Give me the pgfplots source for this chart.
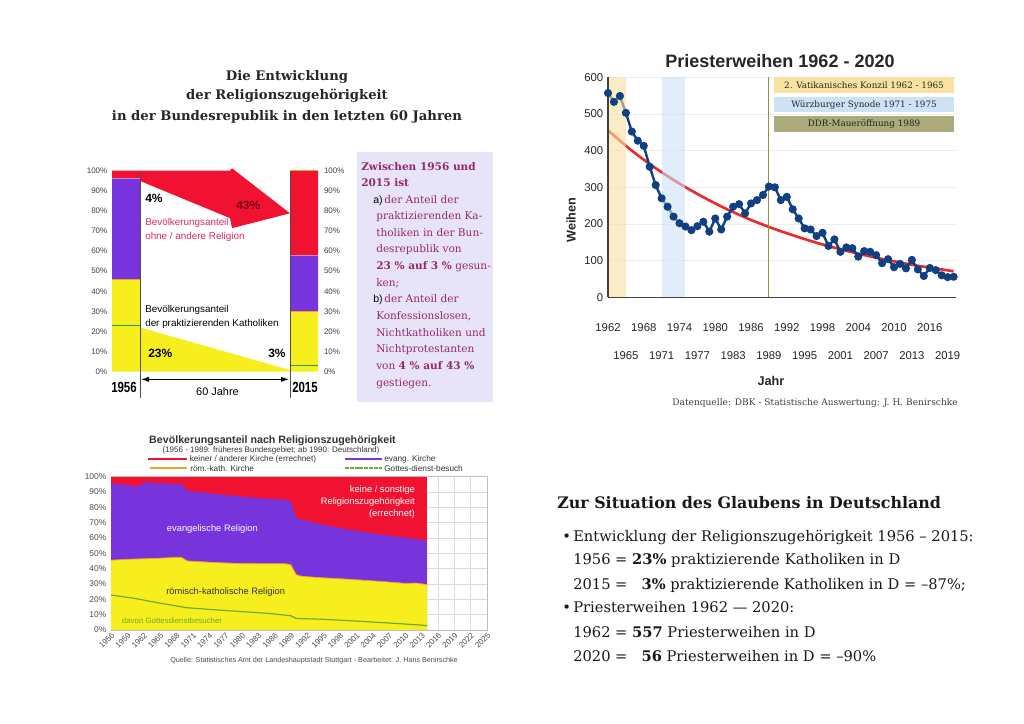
\documentclass[border=0pt]{standalone}
\usepackage{pgfplots}
\pgfplotsset{compat=1.18}
\usepackage{fontspec}
\setmainfont{Liberation Sans}
\newfontfamily\srf{DejaVu Serif}
\usetikzlibrary{arrows.meta}

\definecolor{yel}{RGB}{247,238,30}
\definecolor{lila}{RGB}{120,52,220}
\definecolor{rot}{RGB}{240,18,48}
\definecolor{orng}{RGB}{245,160,40}
\definecolor{grn}{RGB}{40,150,60}
\definecolor{pinktxt}{RGB}{214,44,96}
\definecolor{boxbg}{RGB}{232,228,248}
\definecolor{boxtxt}{RGB}{150,40,110}
\definecolor{wblue}{RGB}{16,64,130}
\definecolor{trend}{RGB}{232,44,44}
\definecolor{konzil}{RGB}{248,226,160}
\definecolor{synode}{RGB}{206,226,245}
\definecolor{olivl}{RGB}{150,145,60}
\definecolor{olivbox}{RGB}{170,170,122}
\definecolor{agrn}{RGB}{110,170,50}

\newcommand{\fs}[1]{\fontsize{#1}{#1}\selectfont}
\pgfplotsset{/pgf/number format/1000 sep={}, /pgf/number format/assume math mode=true}

\begin{document}
\begin{tikzpicture}[x=0.75pt,y=0.75pt]
\useasboundingbox (0,0) rectangle (1024,724);
\fill[white] (0,0) rectangle (1024,724);

% ---------------- panel 1: 1956 / 2015 ----------------
\begin{scope}[every node/.style={inner sep=0pt}]
\node[anchor=base, font=\srf\bfseries\fs{9.9}, text=black!85] at (287,{724-80.5}) {Die Entwicklung};
\node[anchor=base, font=\srf\bfseries\fs{9.9}, text=black!85] at (287,{724-100}) {der Religionszugehörigkeit};
\node[anchor=base, font=\srf\bfseries\fs{9.9}, text=black!85] at (287,{724-120.5}) {in der Bundesrepublik in den letzten 60 Jahren};
\end{scope}

\begin{axis}[at={(84pt,264.225pt)}, anchor=south west, scale only axis,
  width=154.5pt, height=150.75pt, xmin=112, xmax=318, ymin=0, ymax=100,
  ybar stacked, bar width=28, axis line style={draw=none}, xtick=\empty,
  ytick={0,10,...,100}, yticklabel={\pgfmathprintnumber{\tick}\%}, ytick pos=left,
  major tick length=0pt, yticklabel style={font=\fs{6}, text=black!75}]
\addplot[fill=yel, draw=none] coordinates {(126,46) (304,30)};
\addplot[fill=lila, draw=none] coordinates {(126,50) (304,28)};
\addplot[fill=rot, draw=none] coordinates {(126,4) (304,42)};
\end{axis}

\begin{axis}[at={(84pt,264.225pt)}, anchor=south west, scale only axis,
  width=154.5pt, height=150.75pt, xmin=112, xmax=318, ymin=0, ymax=100, clip=false,
  axis line style={draw=none}, xtick=\empty, ytick={0,10,...,100}, ytick pos=right,
  yticklabel={\pgfmathprintnumber{\tick}\%}, major tick length=0pt,
  yticklabel style={font=\fs{6}, text=black!75, xshift=1pt}]
\addplot[fill=yel, draw=none] coordinates {(140,22) (290,0.8)} \closedcycle;
\addplot[fill=rot, draw=none] coordinates {(140,100) (230,100) (232,101.2) (290,78.8) (232,71.4) (230,76.4) (140,94.9)} -- cycle;
\addplot[orng, line width=0.8pt] coordinates {(112,46) (140,46)};
\addplot[orng, line width=0.8pt] coordinates {(290,30) (318,30)};
\addplot[orng, line width=0.8pt] coordinates {(290,100) (318,100)};
\addplot[violet!45, line width=0.8pt] coordinates {(112,96) (140,96)};
\addplot[violet!45, line width=0.8pt] coordinates {(290,58) (318,58)};
\addplot[grn, line width=0.8pt] coordinates {(112,23) (140,23)};
\addplot[grn, line width=0.8pt] coordinates {(290,3) (318,3)};
\draw[black!70, line width=0.5pt] (axis cs:140,100) -- (axis cs:140,-13);
\draw[black!70, line width=0.5pt] (axis cs:290,100) -- (axis cs:290,-13);
\draw[{Latex[length=6pt,width=4pt]}-{Latex[length=6pt,width=4pt]}, line width=0.8pt] (axis cs:141,-3.8) -- (axis cs:289,-3.8);
\end{axis}

\begin{scope}[every node/.style={inner sep=0pt, anchor=base west}]
\node[font=\bfseries\fs{9}] at (145,{724-202.7}) {4\%};
\node[font=\bfseries\fs{9}, text={rgb,255:red,120;green,0;blue,20}] at (236,{724-210}) {43\%};
\node[font=\fs{7.4}, text=pinktxt] at (145,{724-226}) {Bevölkerungsanteil};
\node[font=\fs{7.4}, text=pinktxt] at (145,{724-240}) {ohne / andere Religion};
\node[font=\fs{7.4}] at (145,{724-313}) {Bevölkerungsanteil};
\node[font=\fs{7.4}] at (145,{724-326.7}) {der praktizierenden Katholiken};
\node[font=\bfseries\fs{9}] at (148,{724-357.3}) {23\%};
\node[font=\bfseries\fs{9}] at (268,{724-357.3}) {3\%};
\node[font=\bfseries\fs{11}] at (111,{724-393}) {\scalebox{0.78}[1]{1956}};
\node[font=\bfseries\fs{11}] at (292,{724-393}) {\scalebox{0.78}[1]{2015}};
\node[font=\fs{8.2}, anchor=base] at (217.5,{724-396}) {60 Jahre};
\end{scope}

\fill[boxbg] (357,{724-152}) rectangle (493,{724-402});
\begin{scope}[every node/.style={inner sep=0pt, anchor=base west, font=\srf\fs{7.9}, text=boxtxt}]
\node[font=\srf\bfseries\fs{7.9}] at (361,{724-170.7}) {Zwischen 1956 und};
\node[font=\srf\bfseries\fs{7.9}] at (361,{724-186.7}) {2015 ist};
\node at (373,{724-203.3}) {\textcolor{black}{\fontspec{Liberation Sans}a)}\,der Anteil der};
\node at (376,{724-220}) {praktizierenden Ka-};
\node at (376,{724-236.5}) {tholiken in der Bun-};
\node at (376,{724-253}) {desrepublik von};
\node at (376,{724-270}) {\textbf{23 \% auf 3 \%} gesun-};
\node at (376,{724-286.7}) {ken;};
\node at (373,{724-302.7}) {\textcolor{black}{\fontspec{Liberation Sans}b)}\,der Anteil der};
\node at (376,{724-320}) {Konfessionslosen,};
\node at (376,{724-336.7}) {Nichtkatholiken und};
\node at (376,{724-353}) {Nichtprotestanten};
\node at (376,{724-370}) {von \textbf{4 \% auf 43 \%}};
\node at (376,{724-386.5}) {gestiegen.};
\end{scope}

% ---------------- panel 2: Priesterweihen ----------------
\node[font=\bfseries\fs{13.5}, text=black!85] at (780,{724-61.5}) {Priesterweihen 1962 - 2020};

\begin{axis}[at={(456pt,320.025pt)}, anchor=south west, scale only axis,
  width=261pt, height=165pt, xmin=1962, xmax=2020.4, ymin=0, ymax=600,
  axis x line=bottom, axis y line=left, axis line style={-, draw=black!75, line width=0.9pt},
  ytick={0,100,...,600}, ymajorgrids, grid style={black!7},
  xtick={1962,1968,...,2016}, extra x ticks={1965,1971,...,2019},
  extra x tick style={xticklabel style={yshift=-21pt}},
  major tick length=0pt, clip=false,
  xticklabel style={font=\fs{8.5}, text=black!85, yshift=-16pt},
  yticklabel style={font=\fs{8.5}, text=black!85}]
\addplot[trend, line width=2pt, smooth] coordinates {
 (1962,455) (1966,400) (1970,352) (1974,310) (1978,273) (1982,240) (1986,211)
 (1990,186) (1994,164) (1998,144) (2002,127) (2006,111.5) (2010,98) (2014,86)
 (2018,76) (2020,71)};
\addplot[wblue, line width=1.8pt, mark=*, mark size=2.1pt] coordinates {
 (1962,557) (1963,533) (1964,549) (1965,503) (1966,452) (1967,427) (1968,413)
 (1969,356) (1970,306) (1971,270) (1972,247) (1973,220) (1974,202) (1975,193)
 (1976,183) (1977,194) (1978,206) (1979,179) (1980,215) (1981,185) (1982,220)
 (1983,247) (1984,254) (1985,229) (1986,256) (1987,265) (1988,279) (1989,302)
 (1990,300) (1991,265) (1992,274) (1993,240) (1994,215) (1995,188) (1996,185)
 (1997,167) (1998,176) (1999,140) (2000,158) (2001,124) (2002,136) (2003,134)
 (2004,111) (2005,126) (2006,124) (2007,115) (2008,93) (2009,104) (2010,82)
 (2011,91) (2012,79) (2013,102) (2014,76) (2015,58) (2016,80) (2017,74)
 (2018,60) (2019,55) (2020,56)};
\fill[konzil, opacity=0.6] (axis cs:1962,0) rectangle (axis cs:1965,600);
\fill[synode, opacity=0.6] (axis cs:1971,0) rectangle (axis cs:1975,600);
\draw[olivl, line width=0.9pt] (axis cs:1989,0) -- (axis cs:1989,600);
\draw[black!75, line width=0.9pt] (axis cs:1962,0) -- (axis cs:1962,600);
\end{axis}

\fill[konzil] (774,{724-77.3}) rectangle (954.3,{724-93.3});
\fill[synode] (774,{724-97.3}) rectangle (954.3,{724-112});
\fill[olivbox] (774,{724-116}) rectangle (954.3,{724-131.7});
\node[font=\srf\fs{6.6}, text=black!85] at (864,{724-85.3}) {2. Vatikanisches Konzil 1962 - 1965};
\node[font=\srf\fs{6.6}, text=black!85] at (864,{724-104.7}) {Würzburger Synode 1971 - 1975};
\node[font=\srf\fs{6.6}, text=black!85] at (864,{724-124}) {DDR-Maueröffnung 1989};
\node[font=\bfseries\fs{9.5}, rotate=90, text=black!85] at (571,{724-220}) {Weihen};
\node[font=\bfseries\fs{9.5}, text=black!85] at (771,{724-381}) {Jahr};
\node[font=\srf\fs{6.8}, text=black!75] at (815,{724-403}) {Datenquelle: DBK - Statistische Auswertung: J. H. Benirschke};

% ---------------- panel 3: Bevoelkerungsanteil ----------------
\node[font=\bfseries\fs{8}, text=black!80] at (272.5,{724-440.5}) {Bevölkerungsanteil nach Religionszugehörigkeit};
\node[font=\fs{6}, text=black!80] at (271,{724-450}) {(1956 - 1989: früheres Bundesgebiet; ab 1990: Deutschland)};
\draw[rot, line width=1.3pt] (148,{724-459.3}) -- (187,{724-459.3});
\draw[lila, line width=1.3pt] (345,{724-459.3}) -- (382,{724-459.3});
\draw[orng, line width=1.3pt] (150,{724-468.3}) -- (187,{724-468.3});
\draw[agrn, line width=1.3pt, dash pattern=on 3pt off 0.6pt] (345,{724-468.3}) -- (382,{724-468.3});
\begin{scope}[every node/.style={inner sep=0pt, anchor=west, font=\fs{6.2}, text=black!80}]
\node at (189.5,{724-459.3}) {keiner / anderer Kirche (errechnet)};
\node at (384,{724-459.3}) {evang. Kirche};
\node at (190,{724-468.3}) {röm.-kath. Kirche};
\node at (384,{724-468.3}) {Gottes-dienst-besuch};
\end{scope}

\begin{axis}[at={(83.25pt,70.5pt)}, anchor=south west, scale only axis,
  width=282pt, height=115pt, xmin=1956, xmax=2025, ymin=0, ymax=100,
  xtick={1956,1959,...,2025}, ytick={0,10,...,100},
  yticklabel={\pgfmathprintnumber{\tick}\%},
  xmajorgrids, ymajorgrids, grid style={black!14}, axis line style={black!25},
  major tick length=0pt,
  xticklabel style={rotate=45, anchor=north east, font=\fs{6}, text=black!70, inner sep=1pt},
  yticklabel style={font=\fs{6.3}, text=black!70}]
\addplot[fill=rot, draw=none] coordinates {(1956,100) (2014,100)} \closedcycle;
\addplot[fill=lila, draw=none] coordinates {
 (1956,95.7) (1958,95) (1960,94) (1961,93.5) (1962,96.3) (1965,95.8) (1968,95.3)
 (1969,95) (1970,90.7) (1972,90) (1975,88.8) (1980,87) (1985,85.5) (1988,85)
 (1989,84) (1990,73) (1992,71) (1995,68.5) (2000,65.2) (2005,62.5) (2010,60.2)
 (2013,58.8) (2014,57.6)} \closedcycle;
\addplot[fill=yel, draw=none] coordinates {
 (1956,45.5) (1959,46.1) (1965,46.8) (1968,47.4) (1969,47.2) (1970,45) (1975,44)
 (1980,43.3) (1988,43.2) (1989,42.5) (1990,36) (1991,35) (1995,34) (2000,33)
 (2005,31.8) (2010,30.4) (2012,30.6) (2014,29.6)} \closedcycle;
\addplot[orng, line width=0.6pt] coordinates {
 (1956,45.5) (1959,46.1) (1965,46.8) (1968,47.4) (1969,47.2) (1970,45) (1975,44)
 (1980,43.3) (1988,43.2) (1989,42.5) (1990,36) (1991,35) (1995,34) (2000,33)
 (2005,31.8) (2010,30.4) (2012,30.6) (2014,29.6)};
\addplot[agrn, line width=0.9pt] coordinates {
 (1956,22.8) (1960,20.8) (1965,17.5) (1970,14.5) (1975,13.2) (1980,12) (1985,10.8)
 (1989,9.3) (1990,7.5) (1995,7) (2000,6) (2005,5) (2010,3.9) (2014,2.9)};
\end{axis}

\begin{scope}[every node/.style={inner sep=0pt}]
\node[anchor=east, font=\fs{7}, text=white] at (415,{724-490}) {keine / sonstige};
\node[anchor=east, font=\fs{7}, text=white] at (415,{724-502.5}) {Religionszugehörigkeit};
\node[anchor=east, font=\fs{7}, text=white] at (415,{724-514.5}) {(errechnet)};
\node[anchor=west, font=\fs{7}, text=white] at (166.7,{724-529}) {evangelische Religion};
\node[anchor=west, font=\fs{7}, text=black!80] at (166,{724-592}) {römisch-katholische Religion};
\node[anchor=west, font=\fs{5.9}, text=agrn] at (121.7,{724-621}) {davon Gottesdienstbesucher};
\node[anchor=west, font=\fs{5.4}, text=black!70] at (170,{724-661}) {Quelle: Statistisches Amt der Landeshauptstadt Stuttgart - Bearbeitet: J. Hans Benirschke};
\end{scope}

% ---------------- panel 4: text ----------------
\begin{scope}[every node/.style={inner sep=0pt, anchor=base west, font=\srf\fs{11}, text=black!90}]
\node[font=\srf\bfseries\fs{11.9}] at (557,{724-509}) {Zur Situation des Glaubens in Deutschland};
\node at (562,{724-541.7}) {•};
\node at (573,{724-541.7}) {Entwicklung der Religionszugehörigkeit 1956 – 2015:};
\node at (573,{724-565}) {1956 = \textbf{23\%} praktizierende Katholiken in D};
\node at (573,{724-590}) {2015 = \phantom{2}\textbf{3\%} praktizierende Katholiken in D = –87\%;};
\node at (562,{724-613}) {•};
\node at (573,{724-613}) {Priesterweihen 1962 — 2020:};
\node at (573,{724-638}) {1962 = \textbf{557} Priesterweihen in D};
\node at (573,{724-661.7}) {2020 = \phantom{5}\textbf{56} Priesterweihen in D = –90\%};
\end{scope}
\end{tikzpicture}
\end{document}
